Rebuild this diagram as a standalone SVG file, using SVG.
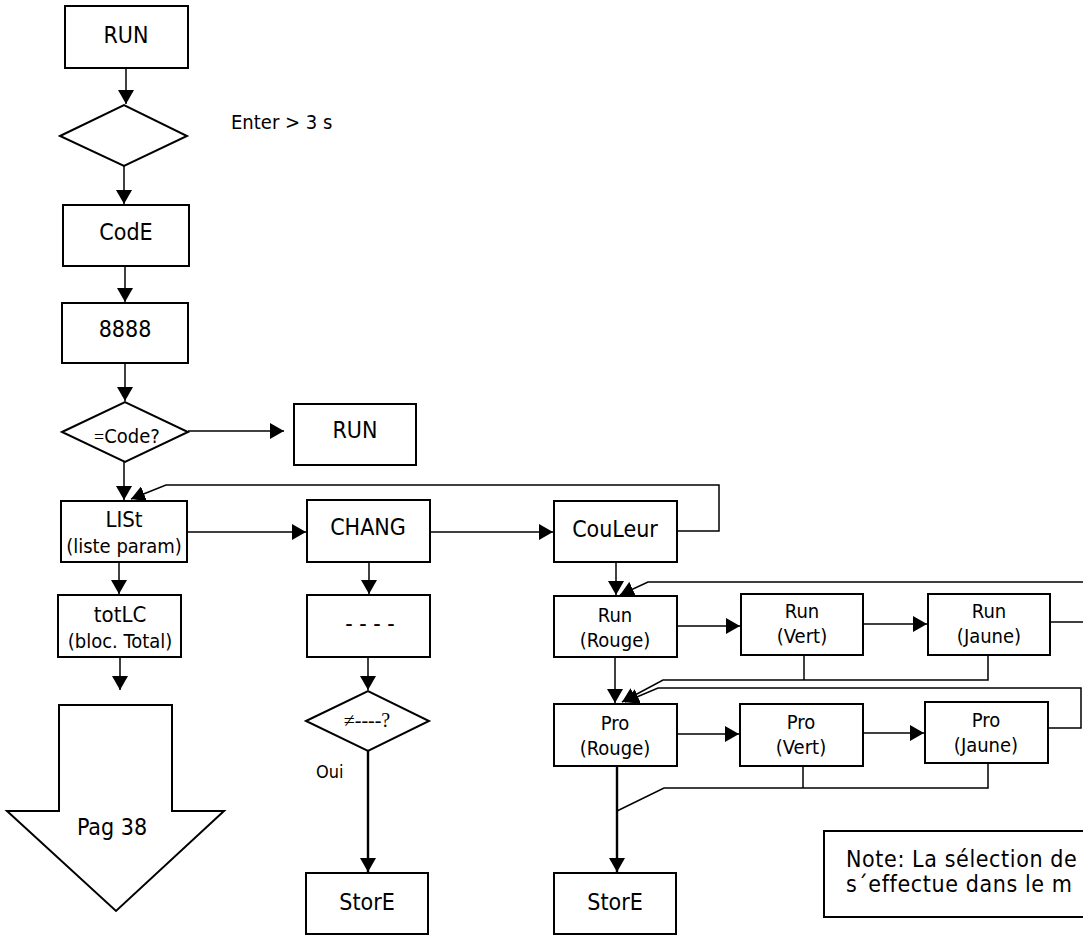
<svg xmlns="http://www.w3.org/2000/svg" width="1083" height="935" viewBox="0 0 1083 935">
<style>
text{font-family:"DejaVu Sans Condensed","DejaVu Sans",sans-serif;font-stretch:condensed;fill:#000;text-anchor:middle}
.t{font-size:23px}
.s{font-size:20px}
.m{font-size:22px}
.l{text-anchor:start}
.sf{font-family:"Liberation Serif",serif;font-stretch:normal}
.box{fill:#fff;stroke:#000;stroke-width:2}
.c{fill:none;stroke:#000;stroke-width:1.5}
.k{fill:none;stroke:#000;stroke-width:2.4}
</style>
<defs>
<marker id="ah" markerWidth="14" markerHeight="16" refX="14" refY="8" orient="auto" markerUnits="userSpaceOnUse"><path d="M0,0 L14,8 L0,16 z" fill="#000"/></marker>
</defs>
<g id="connectors">
<line class="c" x1="126" y1="68" x2="126" y2="104" marker-end="url(#ah)"/>
<line class="c" x1="124" y1="166" x2="124" y2="204" marker-end="url(#ah)"/>
<line class="c" x1="125" y1="266" x2="125" y2="302" marker-end="url(#ah)"/>
<line class="c" x1="125" y1="363" x2="125" y2="401" marker-end="url(#ah)"/>
<line class="c" x1="188" y1="431" x2="284" y2="431" marker-end="url(#ah)"/>
<line class="c" x1="124" y1="462" x2="124" y2="500" marker-end="url(#ah)"/>
<polyline class="c" points="677,531 719,531 719,485 166,485 131,499" marker-end="url(#ah)"/>
<line class="c" x1="187" y1="532" x2="306" y2="532" marker-end="url(#ah)"/>
<line class="c" x1="119" y1="562" x2="119" y2="594" marker-end="url(#ah)"/>
<line class="c" x1="369" y1="562" x2="369" y2="594" marker-end="url(#ah)"/>
<line class="c" x1="430" y1="532" x2="553" y2="532" marker-end="url(#ah)"/>
<line class="c" x1="120" y1="657" x2="120" y2="690" marker-end="url(#ah)"/>
<line class="c" x1="368" y1="657" x2="368" y2="690" marker-end="url(#ah)"/>
<line class="k" x1="368" y1="751" x2="368" y2="872" marker-end="url(#ah)"/>
<line class="c" x1="616" y1="562" x2="616" y2="595" marker-end="url(#ah)"/>
<polyline class="c" points="1090,582 648,582 620,595" marker-end="url(#ah)"/>
<line class="c" x1="1050" y1="622" x2="1090" y2="622"/>
<line class="c" x1="677" y1="626" x2="740" y2="626" marker-end="url(#ah)"/>
<line class="c" x1="863" y1="624" x2="927" y2="624" marker-end="url(#ah)"/>
<line class="c" x1="804" y1="655" x2="804" y2="680"/>
<polyline class="c" points="988,655 988,680 663,680 622,702" marker-end="url(#ah)"/>
<polyline class="c" points="1048,728 1081,728 1081,688 658,688 625,702" marker-end="url(#ah)"/>
<line class="c" x1="615" y1="657" x2="615" y2="703" marker-end="url(#ah)"/>
<line class="c" x1="677" y1="734" x2="739" y2="734" marker-end="url(#ah)"/>
<line class="c" x1="863" y1="733" x2="924" y2="733" marker-end="url(#ah)"/>
<line class="k" x1="617" y1="766" x2="617" y2="872" marker-end="url(#ah)"/>
<line class="c" x1="803" y1="766" x2="803" y2="788"/>
<polyline class="c" points="988,763 988,788 664,788 617,811"/>
</g>
<g id="run1"><rect class="box" x="65" y="6" width="123" height="62"/><text class="t" x="126" y="43">RUN</text></g>
<g id="enter"><polygon class="box" points="60,136 124,105 187,136 124,166"/><text class="s l" x="231" y="129">Enter &gt; 3 s</text></g>
<g id="code"><rect class="box" x="63" y="205" width="126" height="61"/><text class="t" x="126" y="240">CodE</text></g>
<g id="n8888"><rect class="box" x="62" y="303" width="126" height="60"/><text class="t" x="125" y="337">8888</text></g>
<g id="codeq"><polygon class="box" points="62,432 125,402 188,432 125,462"/><text class="s l" x="94" y="443"><tspan class="sf" font-size="18">=</tspan>Code?</text></g>
<g id="run2"><rect class="box" x="294" y="404" width="122" height="61"/><text class="t" x="355" y="438">RUN</text></g>
<g id="list"><rect class="box" x="61" y="501" width="126" height="61"/><text class="m" x="124" y="527">LISt</text><text class="s" x="124" y="553">(liste param)</text></g>
<g id="chang"><rect class="box" x="307" y="500" width="123" height="62"/><text class="t" x="368" y="535">CHANG</text></g>
<g id="couleur"><rect class="box" x="554" y="501" width="123" height="61"/><text class="t" x="615" y="537">CouLeur</text></g>
<g id="totlc"><rect class="box" x="58" y="595" width="123" height="62"/><text class="m" x="120" y="622">totLC</text><text class="s" x="120" y="648">(bloc. Total)</text></g>
<g id="dashes"><rect class="box" x="307" y="595" width="123" height="62"/><text class="t" x="370" y="631">- - - -</text></g>
<g id="diffq"><polygon class="box" points="306,721 368,691 429,721 368,751"/><text class="sf" font-size="20" x="367" y="727">≠----?</text><text class="l" font-size="18" x="316" y="778">Oui</text></g>
<g id="store1"><rect class="box" x="306" y="873" width="122" height="61"/><text class="t" x="367" y="910">StorE</text></g>
<g id="pag38"><polygon class="box" points="59,705 172,705 172,811 224,811 116,911 7,811 59,811"/><text class="t" x="112" y="835">Pag 38</text></g>
<g id="runR"><rect class="box" x="554" y="596" width="123" height="61"/><text class="s" x="615" y="622">Run</text><text class="s" x="615" y="647">(Rouge)</text></g>
<g id="runV"><rect class="box" x="741" y="594" width="122" height="61"/><text class="s" x="802" y="618">Run</text><text class="s" x="802" y="643">(Vert)</text></g>
<g id="runJ"><rect class="box" x="928" y="594" width="122" height="61"/><text class="s" x="989" y="618">Run</text><text class="s" x="989" y="643">(Jaune)</text></g>
<g id="proR"><rect class="box" x="554" y="704" width="123" height="62"/><text class="s" x="615" y="730">Pro</text><text class="s" x="615" y="755">(Rouge)</text></g>
<g id="proV"><rect class="box" x="740" y="704" width="123" height="62"/><text class="s" x="801" y="729">Pro</text><text class="s" x="801" y="754">(Vert)</text></g>
<g id="proJ"><rect class="box" x="925" y="702" width="123" height="61"/><text class="s" x="986" y="727">Pro</text><text class="s" x="986" y="752">(Jaune)</text></g>
<g id="store2"><rect class="box" x="554" y="873" width="122" height="61"/><text class="t" x="615" y="910">StorE</text></g>
<g id="note"><rect class="box" x="824" y="831" width="270" height="86"/><text class="t l" x="846" y="867" letter-spacing="0.6">Note: La sélection de</text><text class="t l" x="846" y="892" letter-spacing="0.6">s´effectue dans le m</text></g>
</svg>
